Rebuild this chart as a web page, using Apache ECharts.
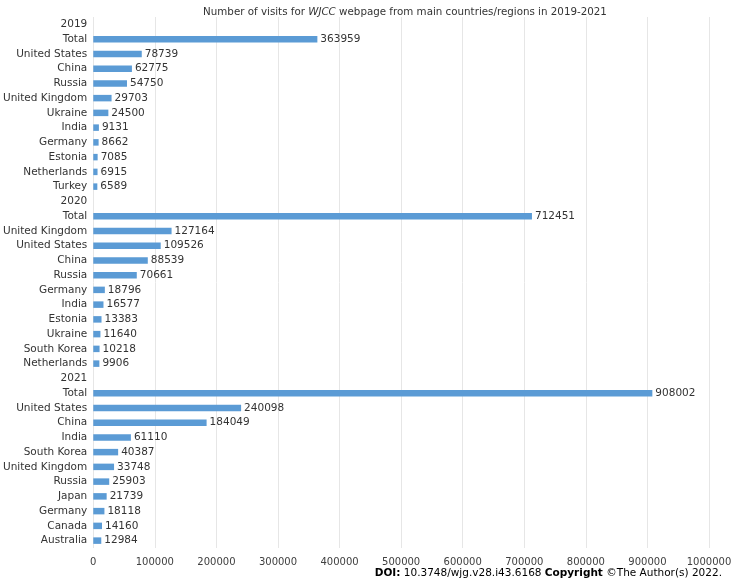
<!DOCTYPE html>
<html><head><meta charset="utf-8">
<script src="https://cdn.jsdelivr.net/npm/echarts@6/dist/echarts.min.js"></script>
<style>html,body{margin:0;padding:0;background:#fff}#c{width:738px;height:580px}</style>
</head><body><div id="c"></div>
<script>
const categories = ["2019","Total","United States","China","Russia","United Kingdom","Ukraine","India","Germany","Estonia","Netherlands","Turkey",
"2020","Total ","United Kingdom ","United States ","China ","Russia ","Germany ","India ","Estonia ","Ukraine ","South Korea","Netherlands ",
"2021","Total  ","United States  ","China  ","India  ","South Korea ","United Kingdom  ","Russia  ","Japan","Germany  ","Canada","Australia"];
const visits = [null,363959,78739,62775,54750,29703,24500,9131,8662,7085,6915,6589,
null,712451,127164,109526,88539,70661,18796,16577,13383,11640,10218,9906,
null,908002,240098,184049,61110,40387,33748,25903,21739,18118,14160,12984];
const xTicks = {min:0,max:1000000,interval:100000};

const font = "DejaVu Sans";
const chart = echarts.init(document.getElementById('c'));
chart.setOption({
  animation:false,
  textStyle:{fontFamily:font},
  title:{
    text:"{n|Number of visits for }{i|WJCC}{n| webpage from main countries/regions in 2019-2021}",
    left:400, textAlign:'center', top:2,
    textStyle:{fontWeight:'normal',rich:{n:{fontFamily:font,fontSize:10.3,fontWeight:'normal',color:'#333'},i:{fontFamily:font,fontSize:10.3,fontWeight:'normal',color:'#333',fontStyle:'italic'}}}
  },
  grid:{left:90,right:29,top:17,bottom:32,containLabel:false},
  xAxis:{type:'value',min:xTicks.min,max:xTicks.max,interval:xTicks.interval,
    axisLine:{show:false},axisTick:{show:false},
    axisLabel:{color:'#404040',fontSize:10,fontFamily:font,margin:9,formatter:v=>String(v)},
    splitLine:{lineStyle:{color:'#e6e6e6',width:1}}},
  yAxis:{type:'category',data:categories,inverse:true,
    axisLine:{show:false},axisTick:{show:false},
    axisLabel:{color:'#333',fontSize:10.5,fontFamily:font,margin:6,formatter:v=>v.trim()}},
  series:[{type:'bar',data:visits,barWidth:6.5,itemStyle:{color:'#5B9BD5'},
    label:{show:true,position:'right',distance:3,color:'#333',fontSize:10.5,fontFamily:font,
      formatter:p=>p.value==null?'':String(p.value)}}],
  graphic:[{type:'text',right:16,bottom:1,style:{
    text:"{b|DOI:} {n|10.3748/wjg.v28.i43.6168} {b|Copyright} {n|©The Author(s) 2022.}",
    rich:{b:{fontWeight:'bold',fontSize:10.5,fontFamily:font,fill:'#000'},n:{fontSize:10.5,fontFamily:font,fill:'#000'}}}}]
});
</script></body></html>
